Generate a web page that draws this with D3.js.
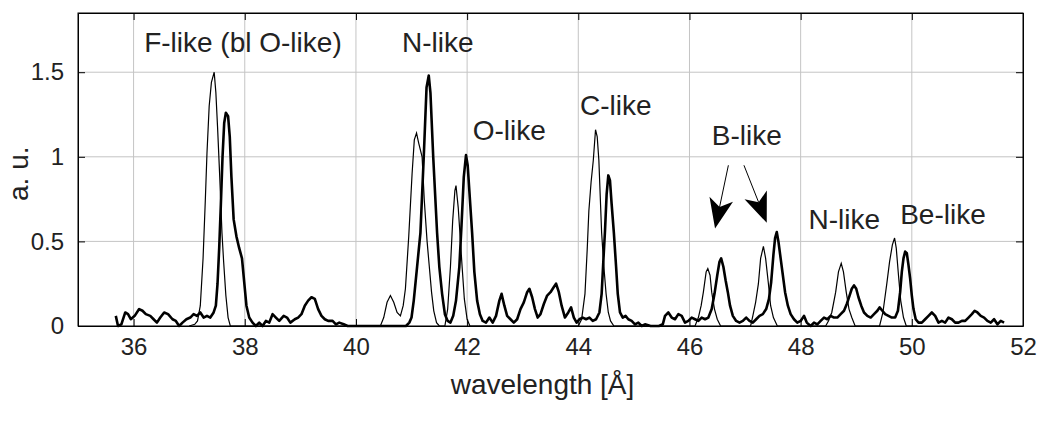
<!DOCTYPE html>
<html>
<head>
<meta charset="utf-8">
<script src="https://cdn.jsdelivr.net/npm/d3@7"></script>
<style>
  body { margin: 0; background: #fff; }
  text { font-family: "Liberation Sans", Arial, sans-serif; fill: #222; }
</style>
</head>
<body>
<svg id="chart" width="1042" height="423"></svg>
<script>
// thin line spectrum: [wavelength (Å), intensity (a.u.)]
const thinSpectrum = [
  [37.0,0.0],[37.1,0.01],[37.15,0.03],[37.2,0.12],[37.25,0.4],[37.29,0.74],[37.32,1.02],[37.36,1.3],
  [37.4,1.44],[37.45,1.5],[37.48,1.38],[37.51,1.18],[37.55,0.88],[37.59,0.55],[37.62,0.38],[37.66,0.18],
  [37.7,0.05],[37.74,0.0],[40.44,0.0],[40.5,0.05],[40.56,0.14],[40.62,0.18],[40.68,0.14],[40.74,0.08],
  [40.8,0.06],[40.85,0.12],[40.89,0.22],[40.95,0.53],[41.01,0.9],[41.05,1.1],[41.09,1.14],[41.13,1.08],
  [41.19,1.0],[41.23,0.74],[41.28,0.5],[41.32,0.35],[41.36,0.2],[41.4,0.09],[41.45,0.02],[41.5,0.0],
  [41.6,0.0],[41.65,0.1],[41.7,0.35],[41.74,0.62],[41.78,0.8],[41.8,0.83],[41.84,0.7],[41.88,0.5],
  [41.91,0.35],[41.95,0.16],[42.0,0.04],[42.05,0.0],[44.0,0.0],[44.06,0.04],[44.12,0.19],[44.16,0.45],
  [44.19,0.68],[44.23,0.85],[44.27,0.98],[44.31,1.16],[44.34,1.12],[44.37,0.98],[44.42,0.55],[44.46,0.35],
  [44.5,0.19],[44.54,0.08],[44.58,0.03],[44.64,0.0],[46.1,0.0],[46.16,0.05],[46.21,0.12],[46.25,0.2],
  [46.3,0.32],[46.33,0.34],[46.37,0.3],[46.4,0.2],[46.45,0.1],[46.5,0.04],[46.56,0.0],[47.1,0.0],
  [47.14,0.06],[47.19,0.14],[47.24,0.25],[47.28,0.4],[47.33,0.47],[47.37,0.4],[47.42,0.25],[47.46,0.12],
  [47.51,0.05],[47.58,0.0],[48.45,0.0],[48.5,0.03],[48.56,0.08],[48.63,0.2],[48.68,0.32],[48.73,0.37],
  [48.77,0.32],[48.82,0.2],[48.87,0.1],[48.92,0.05],[48.98,0.0],[49.42,0.0],[49.48,0.08],[49.55,0.25],
  [49.6,0.38],[49.65,0.48],[49.69,0.52],[49.72,0.46],[49.76,0.3],[49.8,0.15],[49.85,0.05],[49.9,0.0],
  [50.1,0.0]
];

// thick line spectrum: [wavelength (Å), intensity (a.u.)]
const thickSpectrum = [
  [35.68,0.06],[35.72,0.0],[35.78,0.01],[35.85,0.08],[35.9,0.07],[35.95,0.04],[36.02,0.06],[36.1,0.1],
  [36.16,0.09],[36.22,0.07],[36.3,0.06],[36.36,0.04],[36.42,0.02],[36.48,0.05],[36.55,0.08],[36.62,0.07],
  [36.7,0.04],[36.76,0.03],[36.82,0.0],[36.88,0.02],[36.95,0.04],[37.02,0.05],[37.08,0.07],[37.14,0.06],
  [37.2,0.08],[37.26,0.05],[37.32,0.06],[37.38,0.05],[37.44,0.08],[37.48,0.12],[37.51,0.25],[37.54,0.46],
  [37.57,0.72],[37.6,1.0],[37.63,1.2],[37.66,1.26],[37.7,1.24],[37.73,1.12],[37.76,0.88],[37.8,0.63],
  [37.85,0.53],[37.9,0.46],[37.95,0.4],[37.99,0.26],[38.03,0.12],[38.08,0.05],[38.14,0.02],[38.2,0.0],
  [38.26,0.02],[38.32,0.0],[38.38,0.03],[38.44,0.02],[38.5,0.07],[38.56,0.05],[38.62,0.03],[38.7,0.06],
  [38.76,0.05],[38.82,0.02],[38.9,0.04],[38.96,0.05],[39.02,0.07],[39.08,0.12],[39.14,0.15],[39.2,0.17],
  [39.26,0.16],[39.32,0.1],[39.38,0.06],[39.44,0.04],[39.5,0.03],[39.58,0.03],[39.64,0.01],[39.7,0.02],
  [39.78,0.01],[39.85,0.0],[40.9,0.0],[40.96,0.02],[41.0,0.05],[41.04,0.15],[41.1,0.35],[41.16,0.55],
  [41.22,1.0],[41.27,1.41],[41.31,1.48],[41.34,1.38],[41.39,1.0],[41.46,0.55],[41.5,0.35],[41.55,0.19],
  [41.6,0.07],[41.65,0.03],[41.7,0.02],[41.75,0.06],[41.8,0.15],[41.86,0.35],[41.9,0.6],[41.94,0.88],
  [41.98,1.01],[42.01,0.95],[42.05,0.75],[42.09,0.55],[42.13,0.32],[42.18,0.15],[42.23,0.07],[42.28,0.03],
  [42.34,0.02],[42.4,0.05],[42.46,0.02],[42.52,0.06],[42.58,0.15],[42.62,0.19],[42.67,0.12],[42.72,0.06],
  [42.78,0.04],[42.84,0.02],[42.9,0.04],[42.96,0.1],[43.02,0.14],[43.08,0.2],[43.12,0.22],[43.17,0.17],
  [43.22,0.1],[43.27,0.05],[43.32,0.07],[43.38,0.13],[43.44,0.18],[43.5,0.2],[43.56,0.23],[43.6,0.25],
  [43.65,0.2],[43.7,0.12],[43.76,0.05],[43.82,0.08],[43.87,0.11],[43.92,0.05],[43.97,0.02],[44.02,0.04],
  [44.08,0.05],[44.14,0.04],[44.2,0.05],[44.26,0.03],[44.32,0.04],[44.38,0.08],[44.42,0.19],[44.45,0.38],
  [44.48,0.56],[44.51,0.78],[44.54,0.89],[44.57,0.86],[44.6,0.72],[44.64,0.55],[44.68,0.35],[44.71,0.19],
  [44.75,0.08],[44.8,0.05],[44.85,0.06],[44.9,0.04],[44.96,0.03],[45.02,0.01],[45.08,0.02],[45.14,0.0],
  [45.2,0.01],[45.3,0.0],[45.45,0.0],[45.52,0.01],[45.56,0.06],[45.62,0.08],[45.68,0.05],[45.74,0.04],
  [45.8,0.07],[45.86,0.06],[45.92,0.02],[45.98,0.03],[46.04,0.05],[46.1,0.04],[46.16,0.03],[46.22,0.05],
  [46.28,0.04],[46.34,0.05],[46.4,0.1],[46.45,0.19],[46.5,0.3],[46.54,0.38],[46.57,0.4],[46.61,0.35],
  [46.65,0.27],[46.69,0.2],[46.73,0.12],[46.78,0.06],[46.84,0.03],[46.9,0.02],[46.96,0.03],[47.02,0.05],
  [47.08,0.03],[47.14,0.02],[47.2,0.04],[47.26,0.06],[47.32,0.07],[47.38,0.1],[47.43,0.16],[47.47,0.26],
  [47.51,0.42],[47.54,0.52],[47.57,0.555],[47.6,0.5],[47.64,0.4],[47.68,0.3],[47.72,0.2],[47.77,0.12],
  [47.82,0.07],[47.88,0.04],[47.94,0.02],[48.0,0.03],[48.06,0.06],[48.11,0.02],[48.18,0.0],[48.24,0.02],
  [48.3,0.01],[48.36,0.03],[48.42,0.05],[48.48,0.04],[48.54,0.06],[48.6,0.05],[48.66,0.05],[48.72,0.07],
  [48.78,0.09],[48.83,0.13],[48.88,0.18],[48.92,0.22],[48.96,0.24],[49.0,0.22],[49.04,0.17],[49.09,0.12],
  [49.14,0.08],[49.2,0.06],[49.26,0.05],[49.32,0.07],[49.38,0.09],[49.42,0.11],[49.47,0.09],[49.52,0.07],
  [49.58,0.06],[49.64,0.05],[49.7,0.05],[49.75,0.09],[49.79,0.2],[49.82,0.32],[49.85,0.4],[49.88,0.44],
  [49.91,0.43],[49.94,0.36],[49.97,0.28],[50.0,0.18],[50.03,0.1],[50.07,0.04],[50.12,0.02],[50.18,0.02],
  [50.24,0.04],[50.3,0.06],[50.36,0.08],[50.42,0.06],[50.48,0.02],[50.54,0.03],[50.6,0.02],[50.66,0.05],
  [50.72,0.04],[50.78,0.02],[50.84,0.02],[50.9,0.03],[50.96,0.03],[51.02,0.05],[51.08,0.07],[51.13,0.09],
  [51.18,0.08],[51.24,0.06],[51.3,0.05],[51.36,0.03],[51.42,0.02],[51.48,0.04],[51.54,0.01],[51.6,0.03],
  [51.66,0.02]
];

const xTicks = [36, 38, 40, 42, 44, 46, 48, 50, 52];
const yTicks = [0, 0.5, 1, 1.5];
const yTickLabels = ["0", "0.5", "1", "1.5"];

// ion labels: [text, wavelength at left edge, intensity at baseline]
const ionLabels = [
  ["F-like (bl O-like)", 36.19, 1.617],
  ["N-like", 40.83, 1.618],
  ["O-like", 42.10, 1.097],
  ["C-like", 44.03, 1.245],
  ["B-like", 46.40, 1.068],
  ["N-like", 48.14, 0.576],
  ["Be-like", 49.79, 0.602]
];

// arrows under "B-like": [from wl, from val, to wl, to val]
const arrows = [
  [46.70, 0.95, 46.46, 0.576],
  [46.98, 0.95, 47.39, 0.61]
];

const svg = d3.select("#chart");
const margin = { top: 13, right: 19, bottom: 97, left: 78 };
const width = 1042 - margin.left - margin.right;
const height = 423 - margin.top - margin.bottom;

const x = d3.scaleLinear().domain([35, 52]).range([0, width]);
const y = d3.scaleLinear().domain([0, 1.85]).range([height, 0]);

const g = svg.append("g").attr("transform", `translate(${margin.left},${margin.top})`);

// grid
g.selectAll(".vgrid").data(xTicks.filter(d => d < 52)).enter().append("line")
  .attr("x1", d => x(d)).attr("x2", d => x(d)).attr("y1", 0).attr("y2", height)
  .attr("stroke", "#c4c4c4").attr("stroke-width", 1);
g.selectAll(".hgrid").data(yTicks.filter(d => d > 0)).enter().append("line")
  .attr("x1", 0).attr("x2", width).attr("y1", d => y(d)).attr("y2", d => y(d))
  .attr("stroke", "#c4c4c4").attr("stroke-width", 1);

// axes (ticks pointing inward like matlab)
const fontSize = "24px";
const xAxis = g.append("g").attr("transform", `translate(0,${height})`)
  .call(d3.axisBottom(x).tickValues(xTicks).tickSizeInner(-7).tickSizeOuter(0).tickPadding(12));
xAxis.selectAll("text").style("font-size", fontSize).attr("dy", "0.71em");
g.append("g")
  .call(d3.axisTop(x).tickValues(xTicks).tickSizeInner(-7).tickSizeOuter(0).tickFormat(""));
const yAxis = g.append("g")
  .call(d3.axisLeft(y).tickValues(yTicks).tickSizeInner(-7).tickSizeOuter(0).tickPadding(14)
    .tickFormat((d, i) => yTickLabels[i]));
yAxis.selectAll("text").style("font-size", fontSize);
g.append("g").attr("transform", `translate(${width},0)`)
  .call(d3.axisRight(y).tickValues(yTicks).tickSizeInner(-7).tickSizeOuter(0).tickFormat(""));
g.selectAll(".domain").attr("stroke", "#000");
g.selectAll(".tick line").attr("stroke", "#000");

// spectra
const line = d3.line().x(d => x(d[0])).y(d => y(d[1]));
g.append("path").datum(thinSpectrum).attr("d", line)
  .attr("fill", "none").attr("stroke", "#000").attr("stroke-width", 1.2);
g.append("path").datum(thickSpectrum).attr("d", line)
  .attr("fill", "none").attr("stroke", "#000").attr("stroke-width", 2.6).attr("stroke-linejoin", "round");

// frame
g.append("rect").attr("width", width).attr("height", height)
  .attr("fill", "none").attr("stroke", "#000").attr("stroke-width", 1);

// labels
g.selectAll(".ion").data(ionLabels).enter().append("text")
  .attr("x", d => x(d[1])).attr("y", d => y(d[2]))
  .style("font-size", "28px").text(d => d[0]);

// arrows
arrows.forEach(a => {
  const x1 = x(a[0]), y1 = y(a[1]), x2 = x(a[2]), y2 = y(a[3]);
  const len = Math.hypot(x2 - x1, y2 - y1);
  const ux = (x2 - x1) / len, uy = (y2 - y1) / len;
  const back = 30, half = 12, notch = 22;
  g.append("line").attr("x1", x1).attr("y1", y1)
    .attr("x2", x2 - ux * notch).attr("y2", y2 - uy * notch)
    .attr("stroke", "#000").attr("stroke-width", 1);
  const bx = x2 - ux * back, by = y2 - uy * back;
  const pts = [
    [x2, y2],
    [bx - uy * half, by + ux * half],
    [x2 - ux * notch, y2 - uy * notch],
    [bx + uy * half, by - ux * half]
  ];
  g.append("path").attr("d", "M" + pts.map(p => p.join(",")).join("L") + "Z").attr("fill", "#000");
});

// axis titles
svg.append("text")
  .attr("x", margin.left + width / 2 - 8).attr("y", 394)
  .attr("text-anchor", "middle").style("font-size", "28px").text("wavelength [Å]");
svg.append("text")
  .attr("transform", `translate(28,${margin.top + y(0.9)}) rotate(-90)`)
  .attr("text-anchor", "middle").style("font-size", "28px").text("a. u.");
</script>
</body>
</html>
